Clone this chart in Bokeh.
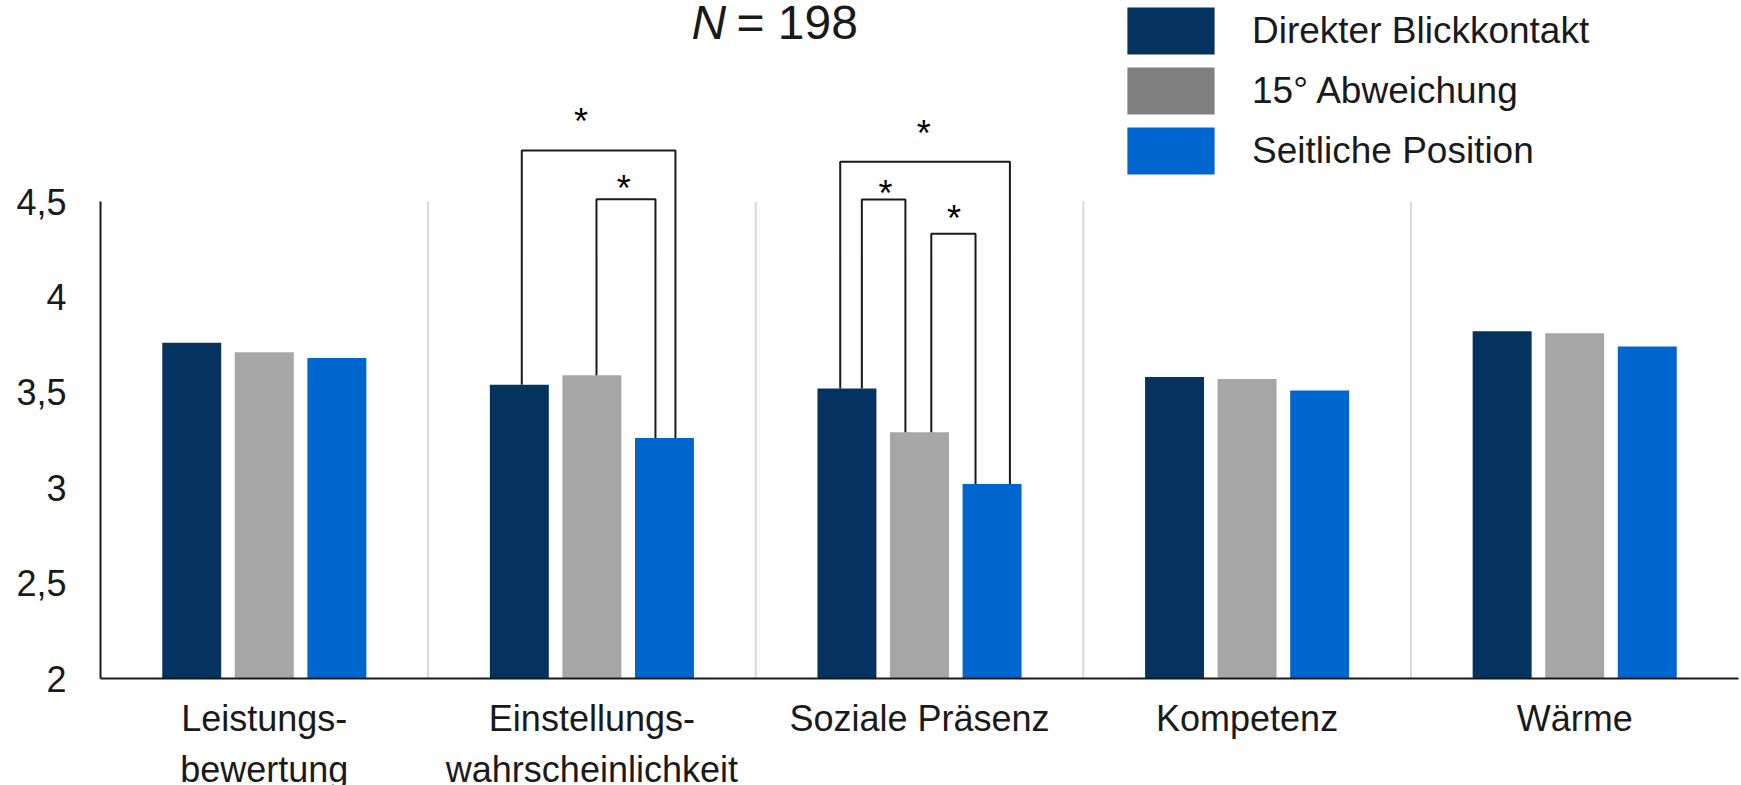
from bokeh.plotting import figure
from bokeh.models import Range1d, FixedTicker, Legend, LegendItem
from bokeh.core.properties import value
from bokeh.embed import file_html
from bokeh.resources import INLINE

# ---- data -------------------------------------------------------------
categories = [
    "Leistungs-\nbewertung",
    "Einstellungs-\nwahrscheinlichkeit",
    "Soziale Präsenz",
    "Kompetenz",
    "Wärme",
]
series_names = ["Direkter Blickkontakt", "15° Abweichung", "Seitliche Position"]
direkt = [3.76, 3.54, 3.52, 3.58, 3.82]
abweichung = [3.71, 3.59, 3.29, 3.57, 3.81]
seitlich = [3.68, 3.26, 3.02, 3.51, 3.74]
y_ticks = [2, 2.5, 3, 3.5, 4, 4.5]
y_tick_labels = ["2", "2,5", "3", "3,5", "4", "4,5"]
sample_size = 198

series = [direkt, abweichung, seitlich]

# ---- styling ------------------------------------------------------------
FONT = "Liberation Sans"
TEXT = "#1a1a1a"
bar_colors = ["#04335f", "#a6a6a6", "#0066cf"]
key_grey = "#808080"   # the legend key for the middle series is darker than its bars

FRAME_W, FRAME_H = 1638, 678
Y_MIN, Y_AXIS_TOP = 2, 4.5
PX_PER_UNIT = 477 / 2.5
Y_MAX = Y_MIN + FRAME_H / PX_PER_UNIT

n_cat = len(categories)
group_offsets = [-0.2215, 0.0, 0.2215]
bar_width = 0.18

p = figure(
    frame_width=FRAME_W, frame_height=FRAME_H,
    x_range=Range1d(0, n_cat), y_range=Range1d(Y_MIN, Y_MAX),
    output_backend="svg", toolbar_location=None,
    min_border_left=100, min_border_right=3, min_border_top=0,
    background_fill_color="white", border_fill_color="white",
)
p.outline_line_color = None
p.xgrid.visible = False
p.ygrid.visible = False

# light separators between the groups
sep = list(range(1, n_cat))
p.segment(x0=sep, y0=Y_MIN, x1=sep, y1=Y_AXIS_TOP, line_color="#d9d9d9", line_width=2)

# grouped bars
centers = [i + 0.5 for i in range(n_cat)]
bar_renderers = []
for vals, off, col in zip(series, group_offsets, bar_colors):
    r = p.vbar(x=[c + off for c in centers], top=vals, bottom=Y_MIN, width=bar_width,
               fill_color=col, line_color=None)
    bar_renderers.append(r)

# hidden copy of the middle series, only used for its legend key colour
grey_key = p.vbar(x=[c + group_offsets[1] for c in centers], top=abweichung, bottom=Y_MIN,
                  width=bar_width, fill_color=key_grey, line_color=None, visible=False)

# significance brackets: (group, series a, series b, left offset, right offset, top)
brackets = [
    (1, 0, 2, -0.214, 0.255, 4.767),
    (1, 1, 2, 0.014, 0.194, 4.512),
    (2, 0, 2, -0.242, 0.276, 4.708),
    (2, 0, 1, -0.176, -0.043, 4.510),
    (2, 1, 2, 0.036, 0.171, 4.331),
]
# star marks: (group, x offset, y centre)
stars = [
    (1, -0.033, 4.945),
    (1, 0.097, 4.593),
    (2, 0.013, 4.881),
    (2, -0.104, 4.567),
    (2, 0.105, 4.439),
]
xs, ys = [], []
for g, a, b, lo, ro, top in brackets:
    xl, xr = centers[g] + lo, centers[g] + ro
    xs.append([xl, xl, xr, xr])
    ys.append([series[a][g], top, top, series[b][g]])
p.multi_line(xs=xs, ys=ys, line_color="#1a1a1a", line_width=2)

p.text(x=[centers[g] + o for g, o, _ in stars], y=[yc for _, _, yc in stars],
       text=["*"] * len(stars), text_font=value(FONT), text_font_size="36px",
       text_color="black", text_align="center", text_baseline="alphabetic",
       y_offset=5)

# heading "N = 198"
title_x = 591 / (FRAME_W / n_cat)
title_y = Y_MIN + (FRAME_H - 40) / PX_PER_UNIT
p.text(x=[title_x], y=[title_y], text=["N"], text_font=value(FONT),
       text_font_size="48px", text_font_style="italic", text_color=TEXT,
       text_align="left", text_baseline="alphabetic", y_offset=-18)
p.text(x=[title_x], y=[title_y], text=[f"= {sample_size}"], text_font=value(FONT),
       text_font_size="48px", text_color=TEXT, text_align="left",
       text_baseline="alphabetic", x_offset=45, y_offset=-18)

# axes
p.yaxis.ticker = FixedTicker(ticks=y_ticks)
p.yaxis.major_label_overrides = dict(zip(y_ticks, y_tick_labels))
p.yaxis.bounds = (Y_MIN, Y_AXIS_TOP)
p.xaxis.ticker = FixedTicker(ticks=centers)
p.xaxis.major_label_overrides = dict(zip(centers, categories))
for ax in (p.xaxis, p.yaxis):
    ax.axis_line_color = "#1a1a1a"
    ax.axis_line_width = 2
    ax.major_tick_line_color = None
    ax.minor_tick_line_color = None
    ax.major_tick_out = 0
    ax.major_tick_in = 0
    ax.minor_tick_out = 0
    ax.major_label_text_font = FONT
    ax.major_label_text_font_size = "36px"
    ax.major_label_text_color = TEXT
p.yaxis.major_label_standoff = 34
p.xaxis.major_label_standoff = 19
p.xaxis.major_label_text_line_height = 1.25

legend = Legend(
    items=[
        LegendItem(label=series_names[0], renderers=[bar_renderers[0]]),
        LegendItem(label=series_names[1], renderers=[grey_key]),
        LegendItem(label=series_names[2], renderers=[bar_renderers[2]]),
    ],
    location=(1016, 498), orientation="vertical",
    glyph_width=109, glyph_height=59, spacing=1, label_standoff=27,
    padding=0, margin=0, border_line_color=None, background_fill_alpha=0,
    inactive_fill_alpha=0,
    label_text_font=FONT, label_text_font_size="37px", label_text_color=TEXT,
)
p.add_layout(legend)

open("out.html", "w").write(file_html(p, INLINE))
